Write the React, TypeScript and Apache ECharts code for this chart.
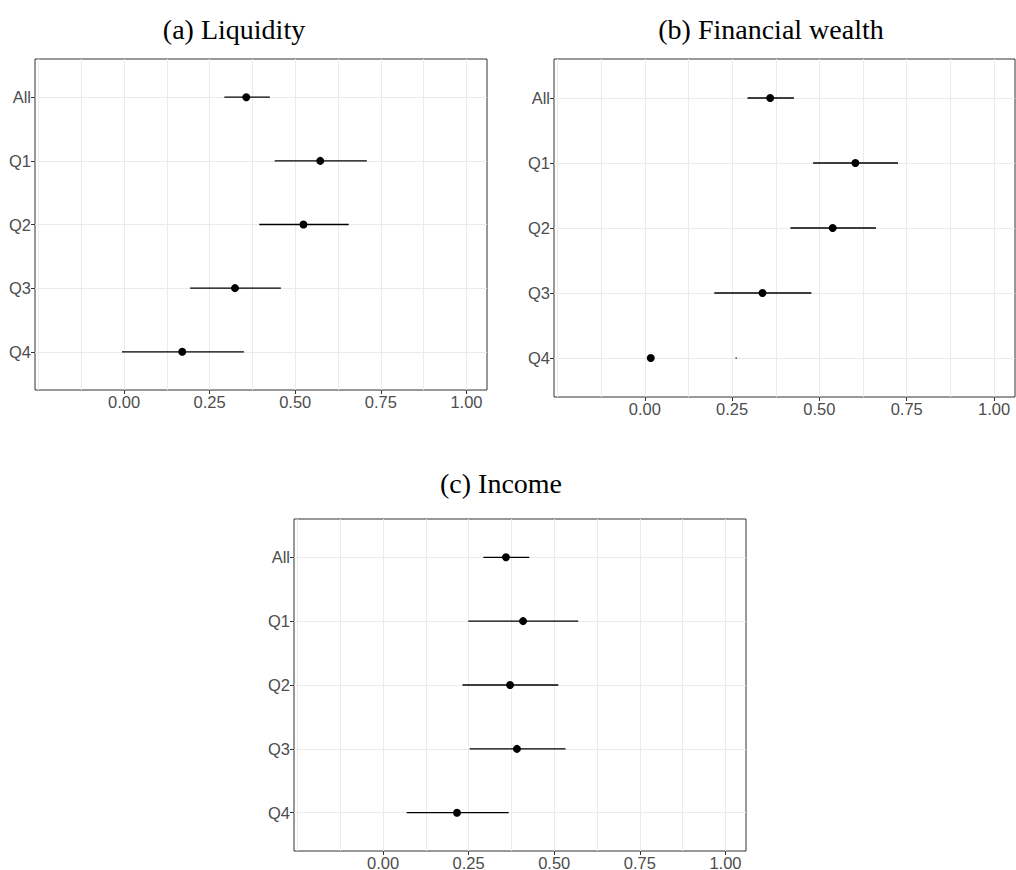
import React, { useEffect, useRef } from 'react';
import * as echarts from 'echarts';

const categories = ['All', 'Q1', 'Q2', 'Q3', 'Q4'];
const categoryPositions = [1, 2, 3, 4, 5];
const xTickLabels = [0, 0.25, 0.5, 0.75, 1];
const xGridValues = [-0.25, -0.125, 0, 0.125, 0.25, 0.375, 0.5, 0.625, 0.75, 0.875, 1];

const titles = ['(a) Liquidity', '(b) Financial wealth', '(c) Income'];

const liquidityEst = [0.357, 0.573, 0.524, 0.324, 0.170];
const liquidityLow = [0.293, 0.440, 0.395, 0.193, -0.006];
const liquidityHigh = [0.426, 0.709, 0.656, 0.458, 0.350];

const wealthEst = [0.359, 0.603, 0.538, 0.337, 0.017];
const wealthLow = [0.294, 0.482, 0.417, 0.199, 0.260];
const wealthHigh = [0.427, 0.725, 0.662, 0.477, 0.263];

const incomeEst = [0.359, 0.409, 0.371, 0.391, 0.216];
const incomeLow = [0.293, 0.249, 0.232, 0.253, 0.069];
const incomeHigh = [0.427, 0.570, 0.512, 0.533, 0.367];

const panelData = [
  { est: liquidityEst, low: liquidityLow, high: liquidityHigh },
  { est: wealthEst, low: wealthLow, high: wealthHigh },
  { est: incomeEst, low: incomeLow, high: incomeHigh },
];

const layouts = [
  { left: 35, top: 59, width: 452, height: 331, titleX: 234, titleY: 29 },
  { left: 554, top: 59, width: 461, height: 338, titleX: 771, titleY: 29 },
  { left: 294, top: 519, width: 452, height: 332, titleX: 501, titleY: 483 },
];

const labelFont = 'Liberation Sans, Arial, sans-serif';

export default function App() {
  const ref = useRef<HTMLDivElement>(null);
  useEffect(() => {
    if (!ref.current) return;
    const chart = echarts.init(ref.current, undefined, { renderer: 'svg' });
    const grid: any[] = [];
    const xAxis: any[] = [];
    const yAxis: any[] = [];
    const series: any[] = [];
    const graphic: any[] = [];

    layouts.forEach((l, i) => {
      grid.push({
        left: l.left,
        top: l.top,
        width: l.width,
        height: l.height,
        show: true,
        borderColor: '#333333',
        borderWidth: 1,
        backgroundColor: 'transparent',
        containLabel: false,
        outerBoundsMode: 'none',
      });
      // gridline axis
      xAxis.push({
        type: 'value',
        gridIndex: i,
        min: -0.26,
        max: 1.06,
        position: 'bottom',
        axisLine: { show: false, onZero: false },
        axisTick: { show: false, customValues: xGridValues },
        axisLabel: { show: false },
        splitLine: { show: true, lineStyle: { color: '#ebebeb', width: 1 } },
      });
      // label axis
      xAxis.push({
        type: 'value',
        gridIndex: i,
        min: -0.26,
        max: 1.06,
        position: 'bottom',
        axisLine: { show: false, onZero: false },
        axisTick: {
          show: true,
          inside: false,
          length: 4,
          customValues: xTickLabels,
          lineStyle: { color: '#333333', width: 1 },
        },
        axisLabel: {
          show: true,
          customValues: xTickLabels,
          formatter: (v: number) => v.toFixed(2),
          color: '#4d4d4d',
          fontSize: 16.5,
          fontFamily: labelFont,
          margin: 3,
        },
        splitLine: { show: false },
      });
      yAxis.push({
        type: 'value',
        gridIndex: i,
        inverse: true,
        min: 0.4,
        max: 5.6,
        position: 'left',
        axisLine: { show: false, onZero: false },
        axisTick: {
          show: true,
          length: 4,
          customValues: categoryPositions,
          lineStyle: { color: '#333333', width: 1 },
        },
        axisLabel: {
          show: true,
          customValues: categoryPositions,
          formatter: (v: number) => categories[Math.round(v) - 1] ?? '',
          color: '#4d4d4d',
          fontSize: 16.5,
          fontFamily: labelFont,
          margin: 4,
        },
        splitLine: { show: true, lineStyle: { color: '#ebebeb', width: 1 } },
      });

      const d = panelData[i];
      series.push({
        type: 'custom',
        xAxisIndex: 2 * i,
        yAxisIndex: i,
        encode: { x: [0, 1], y: 2 },
        data: categories.map((_, k) => [d.low[k], d.high[k], categoryPositions[k]]),
        renderItem: (_p: any, api: any) => {
          const a = api.coord([api.value(0), api.value(2)]);
          const b = api.coord([api.value(1), api.value(2)]);
          return {
            type: 'line',
            shape: { x1: a[0], y1: a[1], x2: b[0], y2: b[1] },
            style: { stroke: '#000000', lineWidth: 1.3 },
          };
        },
        z: 3,
      });
      series.push({
        type: 'scatter',
        xAxisIndex: 2 * i,
        yAxisIndex: i,
        symbol: 'circle',
        symbolSize: 8,
        itemStyle: { color: '#000000', opacity: 1 },
        data: categories.map((_, k) => [d.est[k], categoryPositions[k]]),
        z: 4,
      });

      graphic.push({
        type: 'text',
        x: l.titleX,
        y: l.titleY,
        style: {
          text: titles[i],
          font: '28px "Liberation Serif", "Times New Roman", serif',
          fill: '#000000',
          textAlign: 'center',
          textVerticalAlign: 'middle',
        },
      });
    });

    chart.setOption({
      animation: false,
      backgroundColor: '#ffffff',
      grid,
      xAxis,
      yAxis,
      series,
      graphic,
    });
    return () => chart.dispose();
  }, []);

  return (
    <div
      ref={ref}
      style={{ position: 'absolute', left: 0, top: 0, width: 1016, height: 870 }}
    />
  );
}
